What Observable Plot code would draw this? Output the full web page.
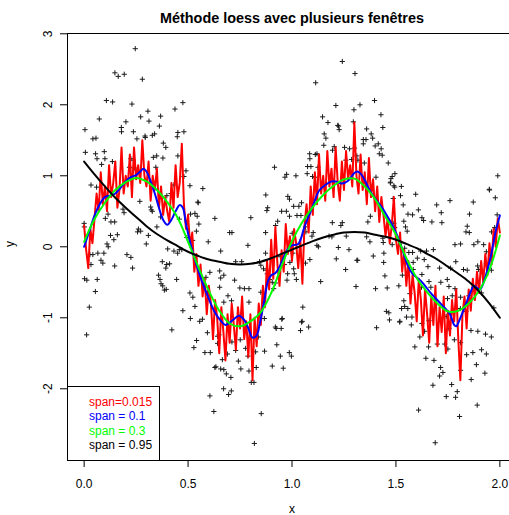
<!DOCTYPE html>
<html><head><meta charset="utf-8">
<script src="https://cdn.jsdelivr.net/npm/d3@7"></script>
<script src="https://cdn.jsdelivr.net/npm/@observablehq/plot@0.6"></script>
<style>
html,body{margin:0;padding:0;background:#fff;overflow:hidden;}
#wrap{position:relative;width:509px;height:515px;overflow:hidden;font-family:"Liberation Sans",Arial,sans-serif;background:#fff;}
#title{position:absolute;top:10.8px;left:0;width:584px;text-align:center;font-weight:bold;font-size:14.4px;line-height:14.4px;color:#000;}
#legend{position:absolute;left:67px;top:386px;width:93px;height:75px;box-sizing:border-box;border:1px solid #000;background:#fff;padding:8px 0 0 21px;font-size:12px;line-height:14.3px;}
#legend div{white-space:nowrap;}
svg{max-width:none !important;}
</style></head><body>
<div id="wrap">
<div id="chart"></div>
<div id="title"></div>
<div id="legend"></div>
</div>
<script>
const titleText = "Méthode loess avec plusieurs fenêtres";
const xTicks = [0, 0.5, 1, 1.5, 2];
const yTicks = [-2, -1, 0, 1, 2, 3];
const legendLabels = ["span=0.015", "span = 0.1", "span = 0.3", "span = 0.95"];
const legendColors = ["#ff0000", "#0000ff", "#00ff00", "#000000"];

// observed points [x, y]
const points = [
[0.246,2.79],[0.148,2.45],[0.164,2.40],[0.193,2.43],[0.280,2.36],[0.107,2.06],[0.137,2.04],[0.230,2.01],[0.307,1.91],[0.272,1.83],[0.073,1.80],[0.201,1.76],[0.312,1.77],[0.368,1.84],[0.004,1.65],[0.179,1.68],[0.180,1.62],[0.237,1.62],[0.362,1.70],[0.042,1.52],[0.057,1.53],[0.254,1.52],[0.293,1.56],[0.328,1.57],[0.339,1.59],[0.451,1.61],[0.448,1.55],[0.480,1.62],[0.381,1.46],[0.393,1.40],[0.437,1.94],[0.475,2.03],[0.006,1.33],[0.055,1.31],[0.097,1.34],[0.062,1.24],[0.100,1.24],[0.136,1.20],[0.084,1.16],[0.225,1.24],[0.237,1.22],[0.218,1.12],[0.241,1.11],[0.349,1.28],[0.333,1.26],[0.379,1.25],[0.451,1.28],[0.345,1.12],[0.490,1.07],[0.480,0.99],[0.033,0.87],[0.060,0.84],[0.432,0.87],[0.509,0.86],[0.571,0.82],[0.294,1.54],
[1.242,2.61],[1.303,2.44],[1.114,2.31],[1.211,1.99],[1.298,1.93],[1.147,1.83],[1.173,1.75],[1.220,1.71],[1.227,1.65],[1.295,1.76],[1.155,1.59],[1.163,1.53],[1.153,1.43],[1.203,1.41],[1.195,1.36],[1.253,1.40],[1.277,1.38],[1.301,1.39],[1.085,1.31],[1.112,1.30],[1.086,1.24],[1.075,1.13],[1.091,1.13],[1.125,1.12],[0.916,1.12],[0.974,1.02],[0.966,0.98],[1.019,1.00],[1.073,1.03],[1.099,0.99],[1.259,1.22],[1.287,1.23],[1.312,1.28],[1.224,1.70],[1.120,1.31],[1.109,0.98],
[1.397,2.06],[1.327,2.00],[1.428,1.86],[1.437,1.68],[1.359,1.66],[1.381,1.59],[1.388,1.53],[1.343,1.51],[1.356,1.51],[1.415,1.45],[1.400,1.42],[1.429,1.38],[1.420,1.31],[1.434,1.29],[1.463,1.18],[1.317,1.22],[1.348,1.18],[1.495,1.03],[1.482,0.99],[1.476,0.96],[1.404,0.98],[1.473,0.90],[1.490,0.86],[1.526,0.85],[1.990,1.00],[1.949,0.81],[1.343,1.45],
[0.398,0.72],[0.418,0.75],[0.549,0.62],[0.268,0.64],[0.187,0.53],[0.192,0.48],[0.320,0.56],[0.328,0.50],[0.115,0.46],[0.102,0.40],[0.129,0.35],[0.147,0.35],[0.127,0.16],[0.143,0.10],[0.160,0.17],[0.110,0.04],[0.116,0.00],[0.000,0.33],[0.001,0.28],[0.261,0.25],[0.272,0.22],[0.350,0.28],[0.368,0.42],[0.299,0.04],[0.206,-0.11],[0.225,-0.15],[0.233,-0.30],[0.147,-0.27],[0.028,-0.11],[0.066,-0.09],[0.095,-0.09],[0.033,-0.25],[0.081,-0.19],[0.090,-0.23],[0.002,-0.45],[0.013,-0.47],[0.063,-0.46],[0.054,-0.63],[0.025,-0.85],[0.309,0.16],[0.376,-0.21],[0.397,-0.25],[0.411,-0.24],[0.393,-0.30],[0.402,-0.03],[0.358,-0.40],[0.365,-0.46],[0.370,-0.52],[0.386,-0.61],[0.395,-0.60],[0.445,-0.46],[0.432,-0.06],[0.458,-0.04],[0.533,0.47],[0.544,0.43],[0.552,0.32],[0.540,0.22],[0.547,0.63],[0.494,0.13],[0.522,0.09],[0.475,-0.90],[0.511,-1.01],[0.533,-0.84],[0.509,-0.65],[0.523,-0.71],[0.569,-1.02],[0.605,-0.36],[0.593,-0.65],
[0.257,0.21],[0.323,0.52],[0.042,-0.11],[0.378,-0.55],[0.470,-0.04],[0.450,-0.09],[0.586,-0.43],[0.458,0.39],[0.512,0.46],
[0.012,-1.24],[0.422,-1.17],[0.556,-1.05],[0.541,-1.32],[0.528,-1.42],[0.581,-1.49],[0.593,-1.21],[0.629,-1.70],[0.605,-2.10],[0.624,-2.32],
[0.874,0.73],[0.980,0.71],[1.008,0.57],[1.033,0.57],[1.046,0.62],[0.950,0.50],[0.973,0.50],[0.883,0.55],[1.024,0.44],[1.043,0.44],[0.988,0.43],[0.931,0.36],[0.802,0.41],[0.629,0.40],[0.597,0.07],[0.657,-0.06],[0.711,0.20],[0.873,0.20],[0.873,-0.09],[0.788,0.02],[0.729,-0.21],[0.758,-0.21],[0.844,-0.21],[0.863,-0.31],[0.878,-0.33],[0.881,-0.38],[0.892,-0.46],[0.905,-0.50],[0.944,-0.14],[0.963,-0.25],[0.990,-0.22],[1.008,-0.31],[1.011,-0.38],[1.021,-0.46],[0.976,-0.47],[0.921,-0.51],[0.912,-0.59],[0.979,-0.38],[1.004,-0.09],[0.991,0.08],[1.001,0.19],[1.065,0.28],[1.067,0.21],[1.127,0.00],[1.138,-0.49],[1.213,-0.17],[1.258,-0.32],[1.274,-0.04],[1.316,-0.19],[1.194,0.34],[1.235,0.30],[1.102,0.20],[1.178,0.15],[0.657,-0.44],[0.652,-0.34],[0.672,-0.40],[0.724,-0.47],[0.749,-0.58],[0.771,-0.59],[0.793,-0.59],[0.692,-0.69],[0.672,-0.78],[0.793,-0.78],[0.652,-0.57],[0.850,-0.64],[0.953,-1.01],[1.052,-0.85],[1.049,-1.05],
[0.988,0.67],[0.879,0.51],[0.921,0.30],[0.700,0.20],[0.850,-0.26],[0.709,-0.76],[1.065,-0.23],[1.086,-0.18],[1.120,0.02],[1.096,0.15],[1.242,0.34],[1.192,0.14],[1.261,0.15],[1.223,-0.01],
[0.867,-1.01],[0.951,-1.02],[0.920,-1.13],[0.948,-1.15],[1.046,-1.06],[1.041,-1.18],[1.080,-1.13],[0.649,-1.24],[0.642,-1.36],[0.711,-1.34],[0.751,-1.31],[0.729,-1.46],[0.689,-1.51],[0.607,-1.49],[0.777,-1.43],[0.788,-1.54],[0.742,-1.61],[0.665,-1.59],[0.634,-1.69],[0.657,-1.72],[0.672,-1.73],[0.684,-1.79],[0.706,-1.84],[0.754,-1.72],[0.793,-1.75],[0.868,-1.47],[0.927,-1.38],[0.944,-1.54],[0.905,-1.68],[0.958,-1.71],[0.987,-1.49],[0.997,-1.54],[0.828,-1.70],[0.804,-1.91],[0.817,-1.91],[0.671,-2.00],[0.708,-2.03],[0.695,-2.08],[0.852,-2.35],[0.819,-2.77],[0.838,-1.27],[0.825,-1.48],[0.924,-1.15],[0.642,-1.26],
[1.474,0.91],[1.494,0.84],[1.522,0.72],[1.487,0.68],[1.595,0.74],[1.535,0.59],[1.696,0.59],[1.760,0.65],[1.872,0.63],[1.950,0.80],[1.978,0.69],[1.718,0.48],[1.854,0.46],[1.608,0.52],[1.558,0.46],[1.580,0.45],[1.625,0.41],[1.633,0.37],[1.673,0.35],[1.721,0.34],[1.538,0.36],[1.546,0.28],[1.554,0.22],[1.490,0.33],[1.494,0.27],[1.987,0.45],[1.975,0.27],[1.843,0.29],[1.837,0.21],[1.853,0.20],[1.960,0.21],[1.377,0.43],[1.359,0.14],[1.375,0.07],[1.437,0.12],[1.482,0.03],[1.542,-0.02],[1.562,-0.08],[1.619,-0.06],[1.647,-0.06],[1.680,-0.04],[1.784,0.03],[1.811,0.04],[1.875,0.03],[1.894,0.07],[1.922,0.03],[1.935,-0.07],[1.312,-0.19],[1.391,-0.13],[1.442,-0.09],[1.441,-0.22],[1.583,-0.22],[1.636,-0.18],[1.654,-0.28],[1.710,-0.30],[1.763,-0.30],[1.788,-0.21],[1.825,-0.32],[1.893,-0.27],[1.935,-0.24],[1.959,-0.33],[1.447,-0.41],[1.531,-0.40],[1.583,-0.32],[1.625,-0.39],[1.308,-0.56],[1.402,-0.59],[1.458,-0.58],[1.623,-0.57],[1.659,-0.49],[1.716,-0.50],[1.755,-0.56],[1.784,-0.59],[1.811,-0.71],[1.748,-0.73],[1.851,-0.69],[1.912,-0.65],[1.971,-0.86],[1.567,-0.66],[1.538,-0.76],[1.542,-0.84],[1.557,-0.87],[1.454,-0.91],[1.466,-0.93],[1.577,-0.99],[1.518,-1.06],[1.625,-1.08],[1.659,-1.04],
[1.365,0.35],[1.439,0.06],[1.580,-0.08],[1.603,-0.16],[1.668,-0.57],[1.747,-0.46],[1.771,-0.69],[1.843,-0.33],[1.898,-0.32],[1.527,-0.87],[1.742,-0.98],[1.810,-0.87],[1.837,-0.91],[1.514,-0.55],
[1.407,-1.14],[1.469,-1.03],[1.519,-1.05],[1.551,-0.99],[1.574,-1.10],[1.591,-1.41],[1.615,-1.27],[1.638,-1.19],[1.657,-1.41],[1.644,-1.57],[1.683,-1.60],[1.715,-1.70],[1.726,-1.77],[1.710,-1.82],[1.699,-1.37],[1.735,-1.37],[1.750,-1.44],[1.755,-1.15],[1.781,-1.31],[1.811,-1.35],[1.811,-1.74],[1.678,-1.95],[1.768,-1.94],[1.742,-2.11],[1.787,-2.12],[1.795,-2.04],[1.806,-2.39],[1.609,-2.30],[1.689,-2.76],[1.861,-1.18],[1.894,-1.19],[1.931,-1.23],[1.959,-1.27],[1.840,-1.52],[1.870,-1.49],[1.912,-1.45],[1.935,-1.51],[1.887,-1.66],[1.928,-1.78],[1.862,-1.87],[1.891,-2.23]
];

// span = 0.015 (red)
const fitRed = [
[0.00,0.30],[0.01,-0.05],[0.02,-0.30],[0.03,0.25],[0.04,0.05],[0.05,0.40],[0.06,0.75],[0.07,0.50],[0.08,1.05],[0.09,0.60],
[0.10,0.85],[0.11,0.50],[0.12,1.15],[0.13,0.70],[0.14,0.90],[0.15,1.20],[0.16,0.55],[0.17,0.80],[0.18,1.40],[0.19,0.75],
[0.20,1.00],[0.21,0.85],[0.22,1.30],[0.23,0.70],[0.24,1.40],[0.25,0.95],[0.26,1.15],[0.27,0.90],[0.28,1.50],[0.29,1.00],
[0.30,0.85],[0.31,1.20],[0.32,0.65],[0.33,1.00],[0.34,0.80],[0.35,1.10],[0.36,0.55],[0.37,0.85],[0.38,0.45],[0.39,0.70],
[0.40,0.50],[0.41,0.35],[0.42,0.90],[0.43,0.55],[0.44,1.15],[0.45,0.70],[0.46,0.90],[0.47,1.45],[0.48,0.60],[0.49,0.25],
[0.50,0.45],[0.51,0.00],[0.52,0.20],[0.53,-0.35],[0.54,-0.10],[0.55,-0.55],[0.56,-0.25],[0.57,-0.70],[0.58,-0.45],[0.59,-0.95],
[0.60,-0.55],[0.61,-0.80],[0.62,-1.30],[0.63,-0.75],[0.64,-1.00],[0.65,-1.50],[0.66,-0.85],[0.67,-1.20],[0.68,-1.60],[0.69,-0.95],
[0.70,-1.35],[0.71,-0.80],[0.72,-1.10],[0.73,-1.45],[0.74,-0.85],[0.75,-1.15],[0.76,-0.70],[0.77,-1.30],[0.78,-1.05],[0.79,-1.55],
[0.80,-0.95],[0.81,-1.88],[0.82,-1.00],[0.83,-1.40],[0.84,-0.80],[0.85,-1.10],[0.86,-0.55],[0.87,-0.85],[0.88,-0.20],[0.89,-0.60],
[0.90,0.10],[0.91,-0.45],[0.92,0.28],[0.93,-0.25],[0.94,-0.55],[0.95,-0.05],[0.96,-0.35],[0.97,0.32],[0.98,-0.10],[0.99,0.15],
[1.00,-0.20],[1.01,0.25],[1.02,0.05],[1.03,-0.30],[1.04,0.10],[1.05,-0.52],[1.06,0.30],[1.07,0.60],[1.08,0.20],[1.09,0.85],
[1.10,0.45],[1.11,1.05],[1.12,0.60],[1.13,1.30],[1.14,0.75],[1.15,1.00],[1.16,0.65],[1.17,1.35],[1.18,0.85],[1.19,1.10],
[1.20,0.70],[1.21,1.40],[1.22,0.90],[1.23,0.65],[1.24,1.20],[1.25,0.80],[1.26,1.35],[1.27,0.95],[1.28,1.15],[1.29,0.85],
[1.30,1.75],[1.31,1.00],[1.32,0.75],[1.33,1.30],[1.34,0.80],[1.35,1.05],[1.36,0.60],[1.37,1.25],[1.38,0.70],[1.39,0.95],
[1.40,0.50],[1.41,0.85],[1.42,0.35],[1.43,0.70],[1.44,0.45],[1.45,0.15],[1.46,0.40],[1.47,0.05],[1.48,0.30],[1.49,0.70],
[1.50,0.10],[1.51,-0.10],[1.52,0.20],[1.53,-0.35],[1.54,-0.05],[1.55,-0.55],[1.56,-0.20],[1.57,-0.80],[1.58,-0.40],[1.59,-0.65],
[1.60,-1.05],[1.61,-0.45],[1.62,-0.75],[1.63,-1.25],[1.64,-0.60],[1.65,-0.95],[1.66,-1.35],[1.67,-0.70],[1.68,-1.10],[1.69,-0.55],
[1.70,-1.40],[1.71,-0.85],[1.72,-1.20],[1.73,-0.70],[1.74,-1.50],[1.75,-0.90],[1.76,-1.25],[1.77,-0.75],[1.78,-1.05],[1.79,-0.60],
[1.80,-1.30],[1.81,-1.88],[1.82,-0.95],[1.83,-0.70],[1.84,-1.15],[1.85,-0.60],[1.86,-0.90],[1.87,-0.45],[1.88,-0.75],[1.89,-0.35],
[1.90,-0.65],[1.91,-0.20],[1.92,-0.50],[1.93,-0.10],[1.94,-0.40],[1.95,0.05],[1.96,-0.25],[1.97,0.25],[1.98,0.00],[1.99,0.40],[2.00,0.20]
];

// span = 0.1 (blue)
const fitBlue = [
[0.00,0.00],[0.025,0.22],[0.05,0.44],[0.075,0.60],[0.10,0.70],[0.125,0.72],[0.15,0.75],[0.175,0.83],[0.20,0.92],[0.225,0.98],
[0.25,1.01],[0.27,1.06],[0.285,1.10],[0.30,1.06],[0.32,0.92],[0.34,0.75],[0.36,0.55],[0.38,0.38],[0.40,0.31],[0.42,0.38],
[0.44,0.50],[0.46,0.59],[0.475,0.55],[0.49,0.32],[0.52,-0.05],[0.56,-0.43],[0.59,-0.66],[0.63,-0.93],[0.66,-1.05],[0.68,-1.10],
[0.70,-1.07],[0.72,-1.02],[0.745,-0.97],[0.77,-1.03],[0.79,-1.15],[0.81,-1.28],[0.83,-1.25],[0.845,-1.08],[0.865,-0.78],[0.885,-0.48],
[0.90,-0.40],[0.92,-0.37],[0.94,-0.28],[0.96,-0.15],[0.98,-0.03],[1.00,0.02],[1.03,0.04],[1.06,0.28],[1.10,0.57],[1.13,0.79],
[1.16,0.87],[1.19,0.92],[1.21,0.92],[1.24,0.89],[1.27,0.93],[1.30,1.04],[1.315,1.06],[1.33,1.03],[1.35,0.94],[1.38,0.76],
[1.44,0.52],[1.50,0.20],[1.53,-0.03],[1.555,-0.25],[1.58,-0.38],[1.62,-0.48],[1.67,-0.66],[1.715,-0.80],[1.76,-0.95],[1.78,-1.10],
[1.79,-1.12],[1.80,-1.07],[1.82,-0.93],[1.84,-0.78],[1.86,-0.63],[1.875,-0.55],[1.89,-0.58],[1.905,-0.60],[1.925,-0.47],[1.955,-0.15],
[1.98,0.22],[2.00,0.44]
];

// span = 0.3 (green)
const fitGreen = [
[0.00,0.07],[0.05,0.39],[0.10,0.62],[0.15,0.80],[0.20,0.91],[0.25,0.97],[0.30,0.92],[0.35,0.80],[0.40,0.63],[0.45,0.41],
[0.50,0.07],[0.55,-0.29],[0.60,-0.62],[0.65,-0.90],[0.70,-1.08],[0.75,-1.12],[0.80,-1.05],[0.85,-0.92],[0.90,-0.65],[0.95,-0.27],
[1.00,0.08],[1.05,0.35],[1.10,0.56],[1.15,0.73],[1.20,0.86],[1.25,0.95],[1.30,0.96],[1.35,0.85],[1.40,0.67],[1.45,0.42],
[1.50,0.17],[1.55,-0.16],[1.60,-0.44],[1.65,-0.64],[1.70,-0.80],[1.75,-0.91],[1.80,-0.90],[1.85,-0.80],[1.90,-0.62],[1.95,-0.32],[2.00,0.16]
];

// span = 0.95 (black)
const fitBlack = [
[0.00,1.20],[0.05,1.02],[0.10,0.85],[0.15,0.69],[0.20,0.55],[0.25,0.42],[0.30,0.29],[0.35,0.18],[0.40,0.09],[0.45,0.01],
[0.50,-0.07],[0.55,-0.13],[0.60,-0.18],[0.65,-0.21],[0.70,-0.24],[0.75,-0.25],[0.80,-0.24],[0.85,-0.21],[0.90,-0.16],[0.95,-0.10],
[1.00,-0.04],[1.05,0.02],[1.10,0.08],[1.15,0.13],[1.20,0.17],[1.25,0.20],[1.30,0.21],[1.35,0.20],[1.40,0.17],[1.45,0.14],
[1.50,0.10],[1.55,0.04],[1.60,-0.02],[1.65,-0.10],[1.70,-0.18],[1.75,-0.28],[1.80,-0.38],[1.85,-0.49],[1.90,-0.63],[1.95,-0.80],[2.00,-1.00]
];

const font = "Liberation Sans, Arial, sans-serif";
const chart = Plot.plot({
  width: 517, height: 515,
  marginLeft: 67, marginRight: 1, marginTop: 33, marginBottom: 55,
  x: {domain: [-0.08, 2.08], label: null},
  y: {domain: [-3.01, 3.004], label: null},
  style: {fontFamily: font, fontSize: "12px", background: "white", color: "black", maxWidth: "none", overflow: "visible"},
  marks: [
    Plot.dot(points, {x: d => d[0], y: d => d[1], symbol: "plus", r: 1.8, stroke: "#1a1a1a", strokeWidth: 1}),
    Plot.line(fitRed, {x: d => d[0], y: d => d[1], stroke: legendColors[0], strokeWidth: 2}),
    Plot.line(fitBlue, {x: d => d[0], y: d => d[1], stroke: legendColors[1], strokeWidth: 2, curve: "catmull-rom"}),
    Plot.line(fitGreen, {x: d => d[0], y: d => d[1], stroke: legendColors[2], strokeWidth: 2, curve: "catmull-rom"}),
    Plot.line(fitBlack, {x: d => d[0], y: d => d[1], stroke: legendColors[3], strokeWidth: 2, curve: "catmull-rom"}),
    Plot.frame({stroke: "black", strokeWidth: 1}),
    Plot.axisX(xTicks, {tickSize: 7, tickPadding: 11.5, tickFormat: d => d.toFixed(1), label: null, fontSize: 12}),
    Plot.axisY(yTicks, {tickSize: 7, tickFormat: () => "", label: null}),
    Plot.text(yTicks, {y: d => d, text: d => String(d), frameAnchor: "left", rotate: -90, dx: -24.5, lineAnchor: "top", textAnchor: "middle", fontSize: 12}),
    Plot.text(["x"], {text: d => d, frameAnchor: "bottom", dy: 43.5, lineAnchor: "top", fontSize: 12}),
    Plot.text(["y"], {text: d => d, frameAnchor: "left", dx: -62.5, rotate: -90, lineAnchor: "top", fontSize: 12})
  ]
});
document.getElementById("chart").appendChild(chart);
document.getElementById("title").textContent = titleText;
const leg = document.getElementById("legend");
legendLabels.forEach((t, i) => {
  const d = document.createElement("div");
  d.textContent = t;
  d.style.color = legendColors[i];
  leg.appendChild(d);
});
</script>
</body></html>
